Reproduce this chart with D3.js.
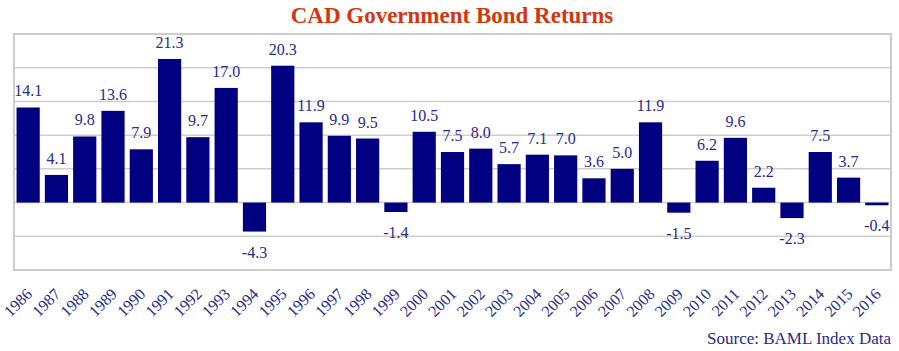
<!DOCTYPE html>
<html><head><meta charset="utf-8">
<script src="https://cdn.jsdelivr.net/npm/d3@7"></script>
<style>body{margin:0;background:#fff}</style>
</head><body>
<svg id="c" width="899" height="351"></svg>
<script>
const years = ["1986","1987","1988","1989","1990","1991","1992","1993","1994","1995","1996","1997","1998","1999","2000","2001","2002","2003","2004","2005","2006","2007","2008","2009","2010","2011","2012","2013","2014","2015","2016"];
const returns = [14.1,4.1,9.8,13.6,7.9,21.3,9.7,17.0,-4.3,20.3,11.9,9.9,9.5,-1.4,10.5,7.5,8.0,5.7,7.1,7.0,3.6,5.0,11.9,-1.5,6.2,9.6,2.2,-2.3,7.5,3.7,-0.4];
const gridTicks = [-10,-5,0,5,10,15,20,25];
const title = "CAD Government Bond Returns";
const source = "Source: BAML Index Data";

const svg = d3.select("#c");
const L=14, R=891, T=34, B=270;
const x = d3.scaleBand().domain(years).range([L,R]).paddingInner(0.18).paddingOuter(0.09);
const y = d3.scaleLinear().domain([-10,25]).range([B,T]);
const serif = "'Liberation Serif','DejaVu Serif',serif";
const navy = "#000080", txt="#2a2a8a";

svg.append("g").selectAll("line").data(gridTicks).join("line")
  .attr("x1",L).attr("x2",R).attr("y1",d=>y(d)).attr("y2",d=>y(d))
  .attr("stroke","#cfcfcf").attr("stroke-width",1.5);
svg.append("rect").attr("x",L).attr("y",T).attr("width",R-L).attr("height",B-T)
  .attr("fill","none").attr("stroke","#cccccc").attr("stroke-width",2);

svg.append("g").selectAll("rect").data(years).join("rect")
  .attr("x",d=>x(d)).attr("width",x.bandwidth())
  .attr("y",(d,i)=>y(Math.max(0,returns[i])))
  .attr("height",(d,i)=>Math.abs(y(returns[i])-y(0)))
  .attr("fill",navy);

svg.append("g").selectAll("text").data(years).join("text")
  .attr("x",d=>x(d)+x.bandwidth()/2)
  .attr("y",(d,i)=>returns[i]>=0 ? y(returns[i])-11 : y(returns[i])+26)
  .attr("text-anchor","middle").attr("font-family",serif).attr("font-size",16)
  .attr("fill",txt).text((d,i)=>returns[i].toFixed(1));

svg.append("g").selectAll("text").data(years).join("text")
  .attr("transform",d=>`translate(${x(d)+x.bandwidth()/2+5},${295}) rotate(-45)`)
  .attr("text-anchor","end").attr("font-family",serif).attr("font-size",16)
  .attr("fill",txt).text(d=>d);

svg.append("text").attr("x",452).attr("y",23).attr("text-anchor","middle")
  .attr("font-family",serif).attr("font-weight","bold").attr("font-size",23)
  .attr("fill","#d2380f").text(title);
svg.append("text").attr("x",891).attr("y",344).attr("text-anchor","end")
  .attr("font-family",serif).attr("font-size",17).attr("fill",txt).text(source);
</script>
</body></html>
